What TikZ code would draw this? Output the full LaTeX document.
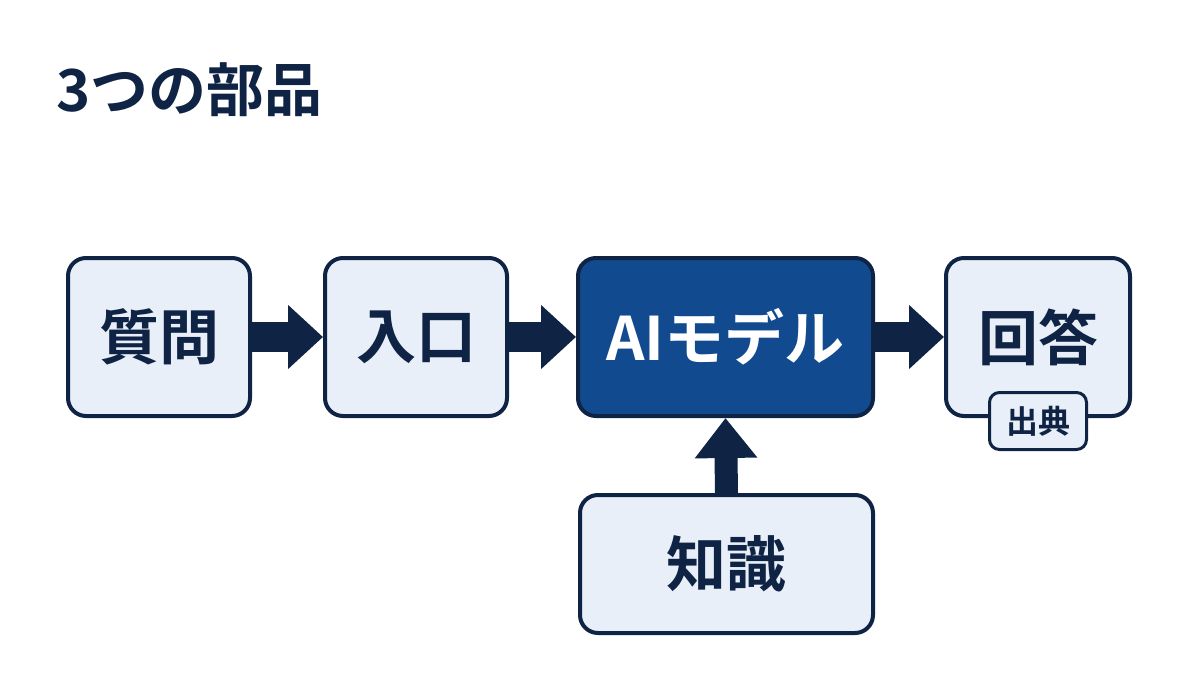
\documentclass[tikz,border=0pt]{standalone}
\usepackage{fontspec}
\setmainfont{Noto Sans CJK JP}[BoldFont={Noto Sans CJK JP Bold}]
\usetikzlibrary{arrows.meta}
\definecolor{navy}{HTML}{0F2344}
\definecolor{pale}{HTML}{E9EFF8}
\definecolor{aiblue}{HTML}{124A90}
\pgfdeclarelayer{bg}
\pgfsetlayers{bg,main}
\tikzset{
  box/.style={draw=navy, line width=2pt, fill=pale, rounded corners=9pt,
    text=navy, font=\bfseries\fontsize{30pt}{34pt}\selectfont, inner sep=0pt},
  aibox/.style={box, fill=aiblue, text=white},
  badge/.style={draw=navy, line width=1.5pt, fill=pale, rounded corners=5pt,
    text=navy, font=\bfseries\fontsize{16pt}{18pt}\selectfont, inner sep=0pt,
    minimum width=48.5pt, minimum height=28.5pt},
  flow/.style={draw=navy, line width=15pt, -{Triangle[length=17.5pt,width=31pt]}},
  upflow/.style={draw=navy, line width=11.5pt, -{Triangle[length=20pt,width=30pt]}},
  title/.style={text=navy, font=\bfseries\fontsize{29pt}{33pt}\selectfont, anchor=west, inner sep=0pt}
}
\begin{document}
\begin{tikzpicture}[x=0.5pt,y=-0.5pt]
\useasboundingbox (0,0) rectangle (1200,675);
\node[title] (t) at (56,90) {3つの部品};
\node[box, minimum width=91pt, minimum height=79pt] (q) at (159,337) {質問};
\node[box, minimum width=91pt, minimum height=79pt] (ent) at (416,337) {入口};
\node[aibox, minimum width=147.5pt, minimum height=79pt] (ai) at (725.5,337) {AIモデル};
\node[box, minimum width=92pt, minimum height=79pt] (ans) at (1038,337) {回答};
\node[badge] (src) at (1038,421) {出典};
\node[box, minimum width=146.5pt, minimum height=69pt] (kn) at (726.5,564) {知識};
\begin{pgfonlayer}{bg}
\fill[white] (0,0) rectangle (1200,675);
\draw[flow] (q.east) -- (ent.west);
\draw[flow] (ent.east) -- (ai.west);
\draw[flow] (ai.east) -- (ans.west);
\draw[upflow] (kn.north) -- (ai.south);
\end{pgfonlayer}
\end{tikzpicture}
\end{document}
